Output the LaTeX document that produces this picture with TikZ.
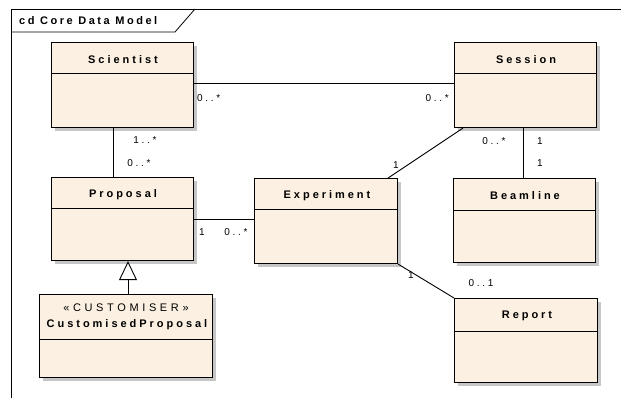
\documentclass[tikz,border=0pt]{standalone}
\usepackage{fontspec}
\setmainfont{Liberation Sans}
\newfontfamily\lsfont[LetterSpace=27]{Liberation Sans}
\newfontfamily\lswide[LetterSpace=33]{Liberation Sans}
\newfontfamily\lstitle[LetterSpace=23]{Liberation Sans}
\usetikzlibrary{arrows.meta}
\definecolor{classfill}{RGB}{251,240,225}
\definecolor{shadowc}{RGB}{198,198,198}
\tikzset{
  classbox/.style={draw=black, line width=1.1pt, fill=classfill, inner sep=0pt, anchor=north west},
  nametext/.style={font=\lsfont\bfseries\fontsize{11}{13}\selectfont, inner sep=0pt},
  titletext/.style={font=\lstitle\bfseries\fontsize{11}{13}\selectfont, inner sep=0pt},
  stereotext/.style={font=\lswide\fontsize{11}{13}\selectfont, inner sep=0pt},
  multtext/.style={font=\lsfont\fontsize{10}{12}\selectfont, inner sep=0pt},
  assoc/.style={draw=black, line width=0.9pt},
  framestyle/.style={draw=black, line width=0.8pt},
}
% #1 name, #2 x1, #3 y1, #4 x2, #5 y2, #6 divider y
\newcommand{\umlclassbox}[6]{%
  \fill[shadowc] (#2+4,#3+4) rectangle (#4+4,#5+4);
  \node[classbox, minimum width={(#4-#2)*1pt}, minimum height={(#5-#3)*1pt}] (#1) at (#2,#3) {};
  \draw[line width=1pt] (#2,#6) -- (#4,#6);
}
\begin{document}
\begin{tikzpicture}[x=1pt,y=-1pt]
\useasboundingbox (0,0) rectangle (621,398);
% frame
\draw[framestyle] (11,398) -- (11,9) -- (621,9);
\draw[framestyle] (11,32) -- (175,32) -- (195,9);
\node[titletext, anchor=west] (title) at (19,21) {cd Core Data Model};

% classes
\umlclassbox{sci}{51}{42}{193}{127}{74}
\node[nametext] (sci-n) at (123,60) {Scientist};
\umlclassbox{ses}{454}{42}{596}{127}{74}
\node[nametext] (ses-n) at (526,60) {Session};
\umlclassbox{prop}{51}{177}{193}{260}{209}
\node[nametext] (prop-n) at (123,195) {Proposal};
\umlclassbox{exp}{254}{178}{397}{263}{210}
\node[nametext] (exp-n) at (327,196) {Experiment};
\umlclassbox{beam}{453}{178}{595}{262}{211}
\node[nametext] (beam-n) at (525,196) {Beamline};
\umlclassbox{rep}{454}{298}{597}{382}{331}
\node[nametext] (rep-n) at (527,316) {Report};
\umlclassbox{cust}{39}{294}{212}{377}{339}
\node[stereotext] (cust-s) at (126,308) {«CUSTOMISER»};
\node[nametext] (cust-n) at (127,325) {CustomisedProposal};

% connectors
\draw[assoc] (sci.east |- 0,83) -- (ses.west |- 0,83);
\draw[assoc] (sci.south -| 113,0) -- (prop.north -| 113,0);
\draw[assoc] (prop.east |- 0,219) -- (exp.west |- 0,219);
\draw[assoc] ([xshift=9pt]ses.south west) -- ([xshift=-10pt]exp.north east);
\draw[assoc] ([xshift=-2pt]ses.south) -- ([xshift=-2pt]ses.south |- beam.north);
\draw[assoc] (exp.south east) -- (rep.north west);
\draw[assoc, -{Triangle[open, length=19pt, width=18pt, line width=0.9pt]}] (cust.north -| 128,0) -- (prop.south -| 128,0);

% multiplicities
\node[multtext, anchor=west] (m1) at (197,98) {0..*};
\node[multtext, anchor=east] (m2) at (449,98) {0..*};
\node[multtext] (m3) at (145,140) {1..*};
\node[multtext] (m4) at (139,163) {0..*};
\node[multtext] (m5) at (202,232) {1};
\node[multtext] (m6) at (236,232) {0..*};
\node[multtext] (m7) at (396,165) {1};
\node[multtext] (m8) at (494,141) {0..*};
\node[multtext] (m9) at (540,141) {1};
\node[multtext] (m10) at (540,163) {1};
\node[multtext] (m11) at (411,275) {1};
\node[multtext] (m12) at (481,283) {0..1};
\end{tikzpicture}
\end{document}
